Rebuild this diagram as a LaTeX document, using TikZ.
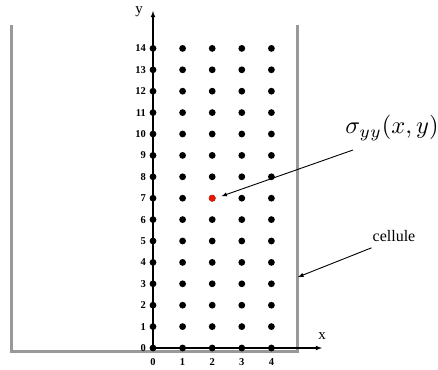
\documentclass[tikz,border=0pt]{standalone}
\usepackage{fontspec}
\setmainfont{Liberation Serif}
\usetikzlibrary{calc}

\tikzset{
    gridpt/.style={circle, fill=black, inner sep=0pt, minimum size=6.8pt},
    hotpt/.style={circle, fill=red!80!orange!90!black, inner sep=0pt, minimum size=6.8pt},
    ticklab/.style={font=\fontsize{10.5}{12}\selectfont\bfseries, inner sep=1pt},
    axislab/.style={font=\fontsize{15}{18}\selectfont, inner sep=0pt},
    cellwall/.style={line width=3pt, color=black!40}
}

\begin{document}
\begin{tikzpicture}[x=29.6pt, y=21.4pt, >=latex]
        % --- SETTINGS ---
        \def\Nx{4}          % last column
        \def\Ny{14}         % last row
        \useasboundingbox (-153pt,-21pt) rectangle (285pt,348pt);

        % --- CELL WALLS ---
        \draw[cellwall] (-141pt,323pt) -- (-141pt,-3pt) -- (144pt,-3pt) -- (144pt,323pt);
        \coordinate (wall) at (145pt,71pt);

        % --- AXES ---
        \coordinate (O) at (0,0);
        \coordinate (xend) at (169pt,0);
        \coordinate (yend) at (0,337pt);
        \draw[->, line width=1.1pt] (O) -- (xend);
        \draw[->, line width=1.1pt] (O) -- (yend);
        \node[axislab] (xlab) at (169pt,12pt) {x};
        \node[axislab] (ylab) at (-14pt,336pt) {y};

        % --- GRID POINTS ---
        \foreach \i in {0,...,\Nx} {
            \foreach \j in {0,...,\Ny} {
                \node[gridpt] (p-\i-\j) at (\i,\j) {};
            }
            \node[ticklab] (xt-\i) at (\i,-14pt) {\i};
        }
        \foreach \j in {0,...,\Ny}
            \node[ticklab, anchor=east] (yt-\j) at (-6pt,\j) {\j};

        % --- STRESS POINT ---
        \node[hotpt] (sxy) at (2,7) {};

        % --- LABELS ---
        \node[anchor=west, inner sep=0pt, scale=2.45] (sig) at (192pt,220pt) {$\sigma_{yy}(x,y)$};
        \draw[->, line width=0.9pt, shorten >=6pt] ([xshift=8pt, yshift=-22pt]sig.west) -- (sxy.east);
        \node[font=\fontsize{16}{19}\selectfont, inner sep=0pt] (cel) at (241pt,112pt) {cellule};
        \draw[->, line width=0.9pt] ([xshift=-1pt, yshift=-6pt]cel.south west) -- (wall);
    \end{tikzpicture}
\end{document}
